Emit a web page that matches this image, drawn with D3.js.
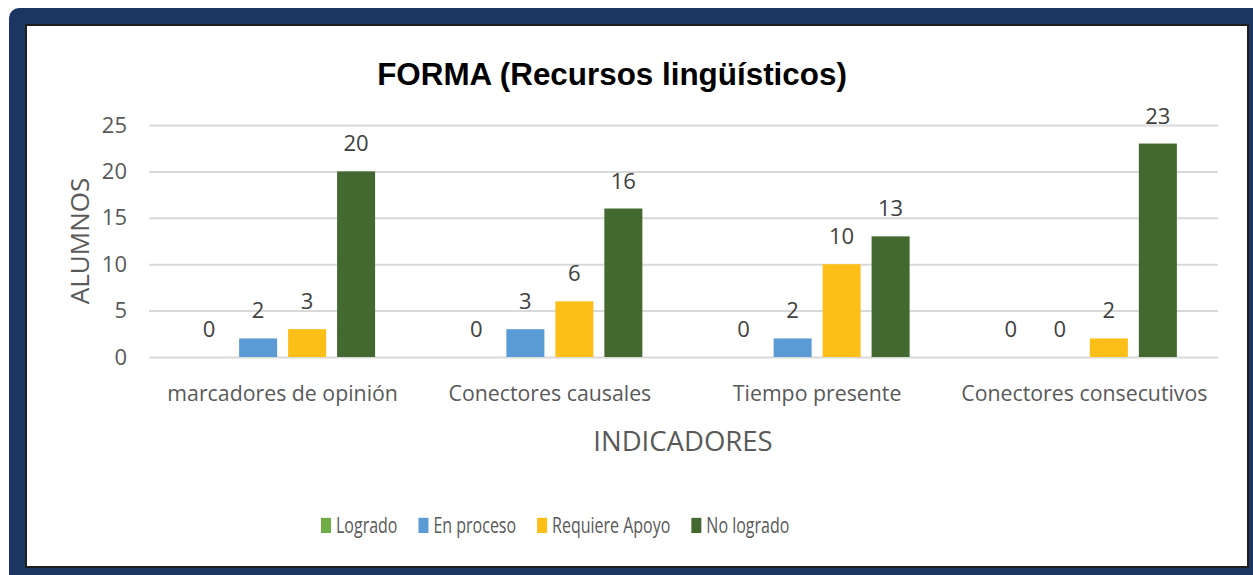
<!DOCTYPE html>
<html lang="es">
<head>
<meta charset="utf-8">
<style>
  body { margin: 0; background: white; }
  svg { display: block; font-family: 'Open Sans', sans-serif; }
  .grid line { stroke: #d9d9d9; stroke-width: 2px; }
  .axis text { fill: #595959; }
  .label { fill: #404040; font-size: 22px; text-anchor: middle; }
</style>
</head>
<body>
<svg width="1253" height="575"></svg>
<script src="https://cdn.jsdelivr.net/npm/d3@7"></script>
<script>
// data
const categories = ["marcadores de opinión", "Conectores causales", "Tiempo presente", "Conectores consecutivos"];
const series = ["Logrado", "En proceso", "Requiere Apoyo", "No logrado"];
const colors = ["#70ad47", "#5b9bd5", "#fcbf17", "#436830"];
const logrado = [0, 0, 0, 0];
const enProceso = [2, 3, 2, 0];
const requiereApoyo = [3, 6, 10, 2];
const noLogrado = [20, 16, 13, 23];
const yTicks = [0, 5, 10, 15, 20, 25];

const values = [logrado, enProceso, requiereApoyo, noLogrado];

const svg = d3.select("svg");

// frame
svg.append("rect")
  .attr("x", 9).attr("y", 8)
  .attr("width", 1270).attr("height", 600)
  .attr("rx", 10)
  .attr("fill", "#1b3662");
svg.append("rect")
  .attr("x", 26).attr("y", 25)
  .attr("width", 1222).attr("height", 542)
  .attr("fill", "white")
  .attr("stroke", "#1e1e1e")
  .attr("stroke-width", 2);

const plotLeft = 149, plotRight = 1218, plotTop = 125, plotBottom = 357;

const x0 = d3.scaleBand().domain(categories).range([plotLeft, plotRight]);
const x1 = d3.scaleBand().domain(series).range([0, x0.bandwidth()])
  .paddingInner(0.224).paddingOuter(0.84);
const y = d3.scaleLinear().domain([0, 25]).range([plotBottom, plotTop]);

// gridlines
svg.append("g")
  .attr("class", "grid")
  .attr("transform", `translate(${plotLeft},0)`)
  .call(d3.axisLeft(y).tickValues(yTicks).tickSize(-(plotRight - plotLeft)).tickFormat(""))
  .call(g => g.select(".domain").remove());

// y axis labels
svg.append("g")
  .attr("class", "axis")
  .attr("transform", `translate(${plotLeft},0)`)
  .call(d3.axisLeft(y).tickValues(yTicks).tickSize(0).tickPadding(22))
  .call(g => g.select(".domain").remove())
  .selectAll("text").attr("font-size", 22).attr("font-family", "Open Sans");

// x axis labels
svg.append("g")
  .attr("class", "axis")
  .attr("transform", `translate(0,${plotBottom})`)
  .call(d3.axisBottom(x0).tickSize(0).tickPadding(29))
  .call(g => g.select(".domain").remove())
  .selectAll("text").attr("font-size", 21.3).attr("font-family", "Open Sans");

// bars
const groups = svg.append("g").selectAll("g")
  .data(categories)
  .join("g")
  .attr("transform", d => `translate(${x0(d)},0)`);

const cells = groups.selectAll("g")
  .data((c, ci) => series.map((s, si) => ({ s, si, v: values[si][ci] })))
  .join("g");

cells.append("rect")
  .attr("x", d => x1(d.s))
  .attr("width", x1.bandwidth())
  .attr("y", d => y(d.v))
  .attr("height", d => plotBottom - y(d.v))
  .attr("fill", d => colors[d.si]);

cells.append("text")
  .attr("class", "label")
  .attr("x", d => x1(d.s) + x1.bandwidth() / 2)
  .attr("y", d => y(d.v) - 20)
  .text(d => d.v);

// title
svg.append("text")
  .attr("x", 612).attr("y", 85)
  .attr("text-anchor", "middle")
  .attr("font-family", "Liberation Sans, Arial, sans-serif")
  .attr("font-weight", "bold")
  .attr("font-size", 31.4)
  .attr("fill", "#000")
  .text("FORMA (Recursos lingüísticos)");

// axis titles
svg.append("text")
  .attr("transform", "translate(89,241) rotate(-90)")
  .attr("text-anchor", "middle")
  .attr("font-size", 26)
  .attr("fill", "#595959")
  .text("ALUMNOS");

svg.append("text")
  .attr("x", 683).attr("y", 451)
  .attr("text-anchor", "middle")
  .attr("font-size", 27.5)
  .attr("fill", "#595959")
  .text("INDICADORES");

// legend
const legend = svg.append("g").attr("transform", "translate(321,533) scale(1,1.38)");
let lx = 0;
series.forEach((s, i) => {
  legend.append("rect")
    .attr("x", lx).attr("y", -11)
    .attr("width", 10).attr("height", 11)
    .attr("fill", colors[i]);
  const t = legend.append("text")
    .attr("x", lx + 15).attr("y", 0)
    .attr("font-size", 16)
    .attr("fill", "#595959")
    .text(s);
  lx += 15 + t.node().getComputedTextLength() + 21;
});
</script>
</body>
</html>
